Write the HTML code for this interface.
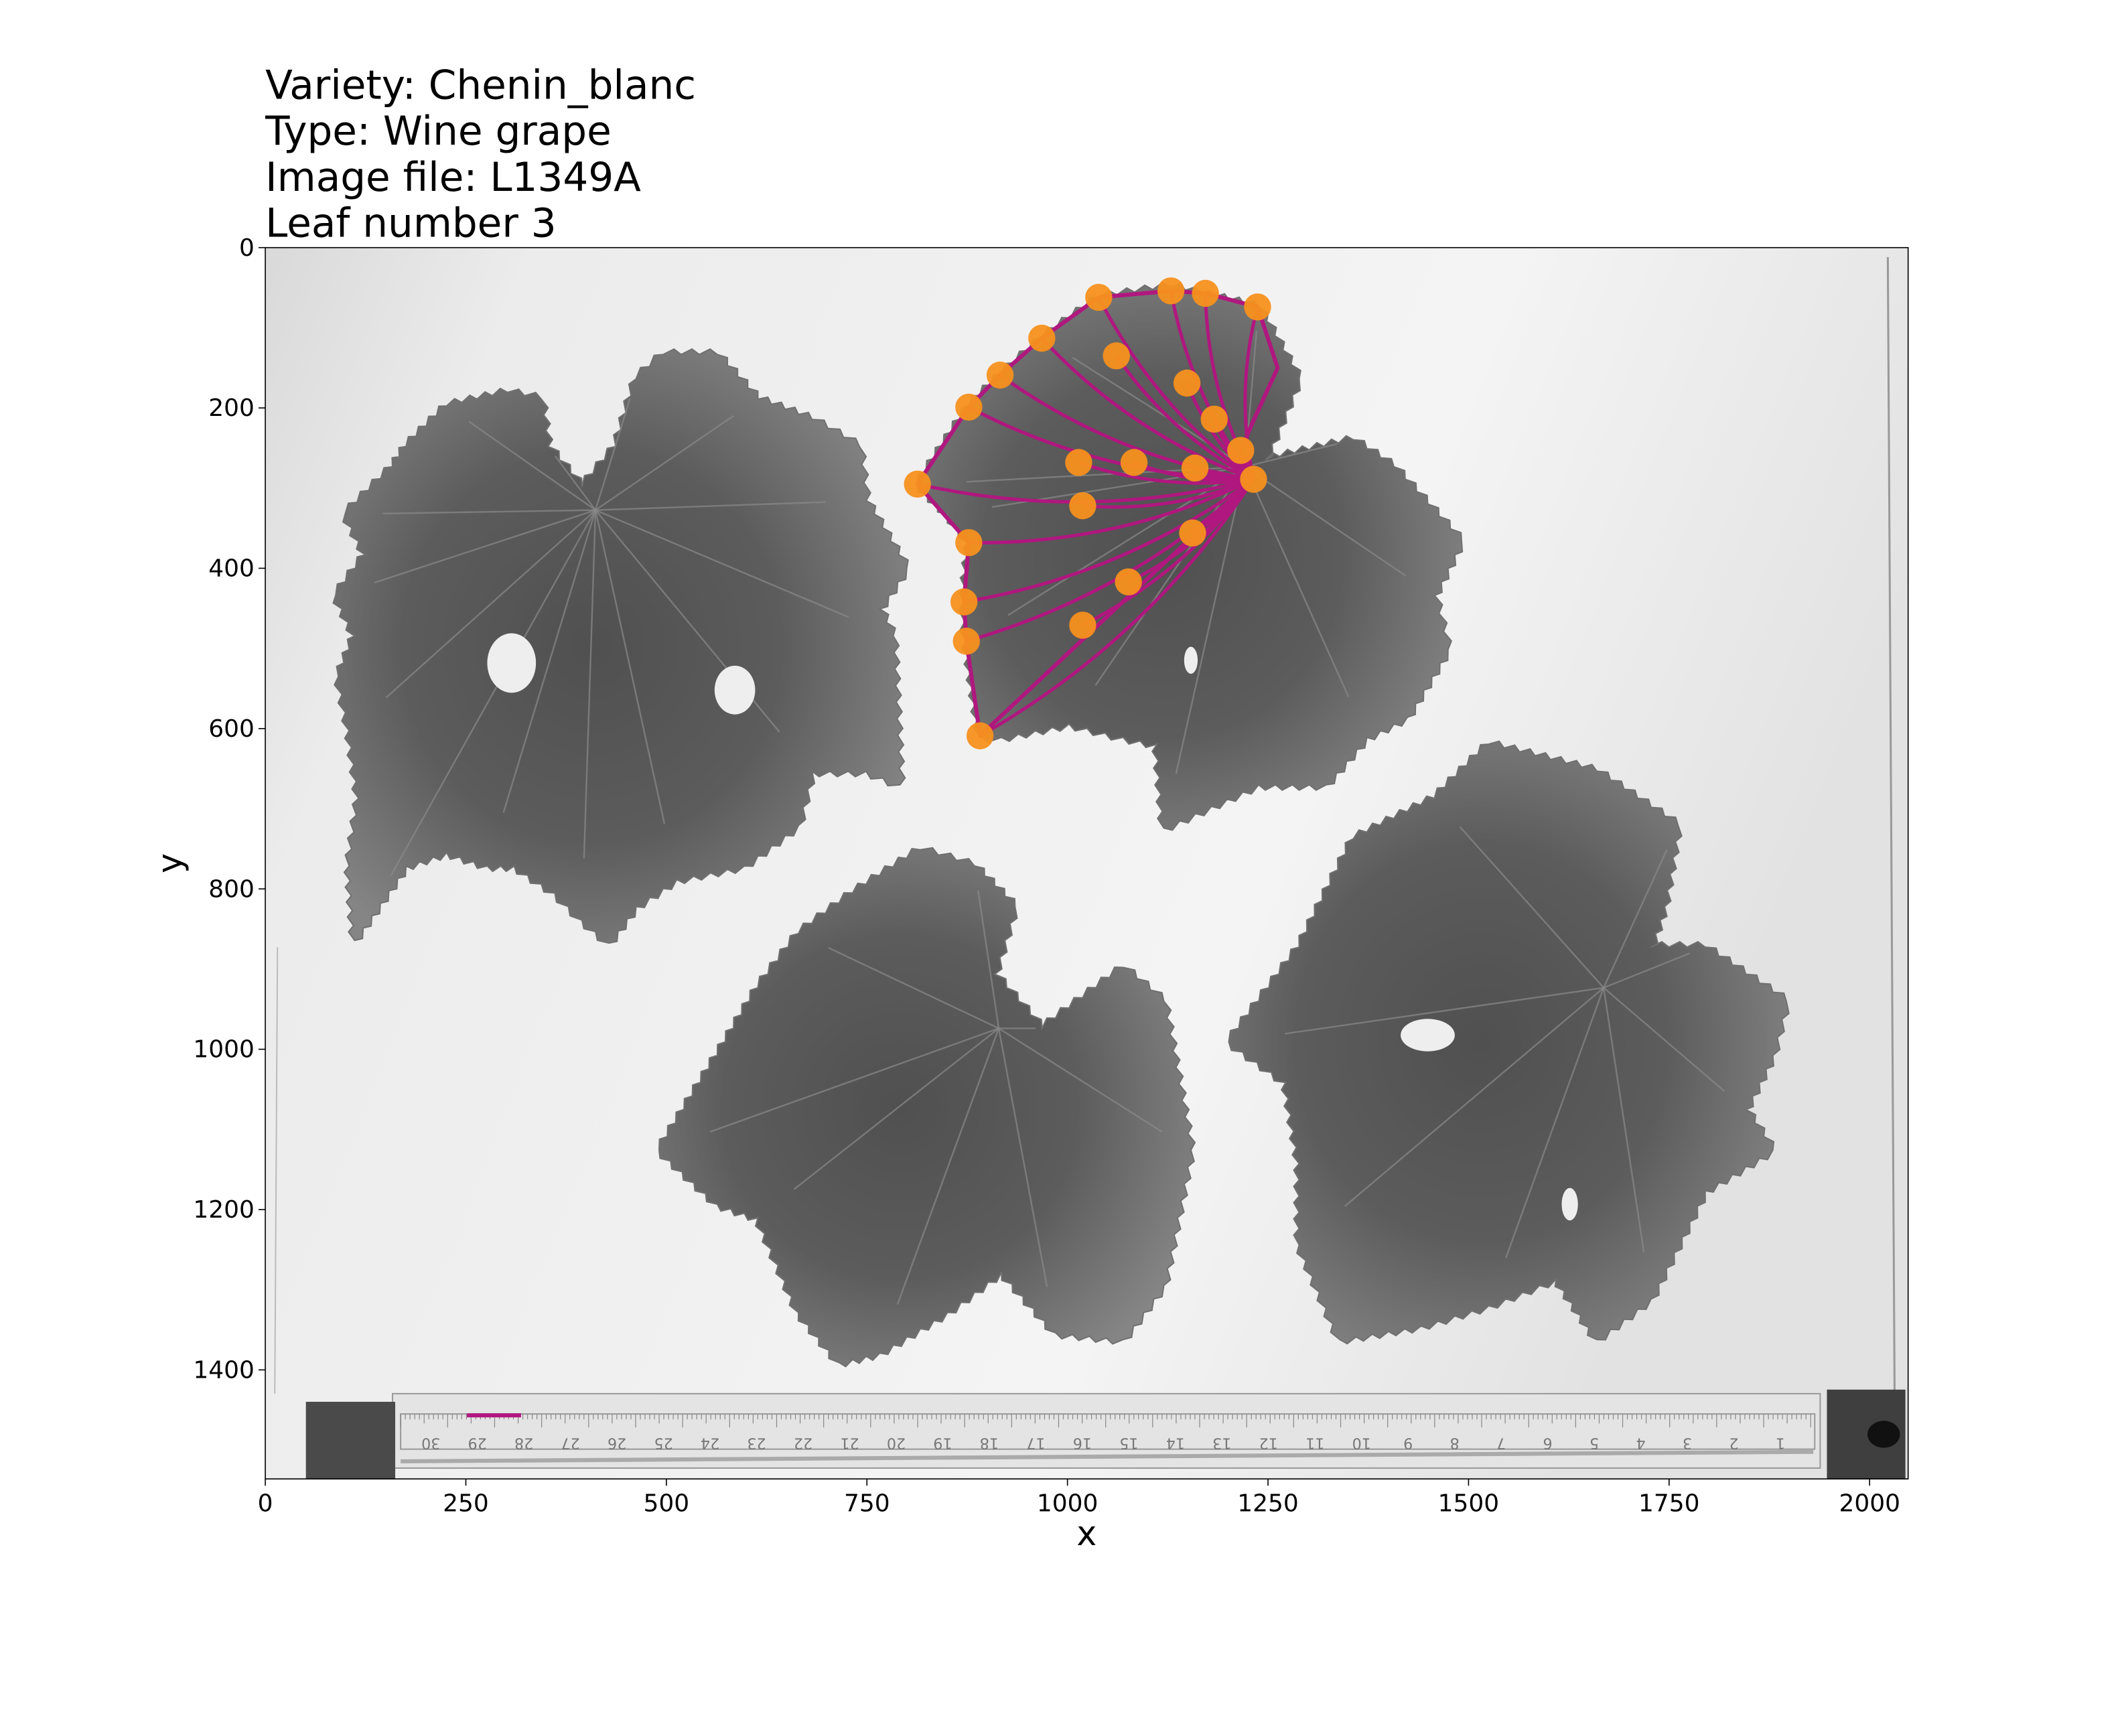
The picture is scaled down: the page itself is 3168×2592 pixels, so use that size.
<!DOCTYPE html>
<html><head><meta charset="utf-8"><style>
html,body{margin:0;padding:0;background:#fff}
svg{display:block}
text{font-family:"DejaVu Sans","Liberation Sans",sans-serif}
</style></head><body>
<svg id="fig" width="3168" height="2592" viewBox="0 0 1568 1283" xmlns="http://www.w3.org/2000/svg">
<defs>
<linearGradient id="bg" x1="0" y1="0" x2="1" y2="0.3">
<stop offset="0" stop-color="#d9d9d9"/><stop offset="0.15" stop-color="#ececec"/><stop offset="0.7" stop-color="#f4f4f4"/><stop offset="1" stop-color="#e2e2e2"/>
</linearGradient>
<radialGradient id="leafg" cx="0.45" cy="0.5" r="0.6">
<stop offset="0" stop-color="#505050"/><stop offset="0.55" stop-color="#5c5c5c"/><stop offset="1" stop-color="#858585"/>
</radialGradient>
</defs>
<g font-size="29.5" fill="#000">
<text x="196" y="73">Variety: Chenin_blanc</text>
<text x="196" y="107">Type: Wine grape</text>
<text x="196" y="141">Image file: L1349A</text>
<text x="196" y="175">Leaf number 3</text>
</g>
<g id="plot">
<rect x="196" y="183" width="1214" height="910" fill="url(#bg)"/>
<line x1="1395" y1="190" x2="1400" y2="1030" stroke="#999" stroke-width="1.5"/>
<line x1="205" y1="700" x2="203" y2="1030" stroke="#bbb" stroke-width="1"/>
<g id="leaves"></g>
<g id="ruler">
<rect x="290" y="1030" width="1055" height="55" fill="#e4e4e4" stroke="#999" stroke-width="1"/>
<rect x="296" y="1045" width="1045" height="26" fill="none" stroke="#999" stroke-width="1"/>
<line x1="296" y1="1080" x2="1340" y2="1073" stroke="#aaa" stroke-width="3"/>
<rect x="226" y="1036" width="66" height="57" fill="#4a4a4a"/>
<rect x="1350" y="1027" width="58" height="66" fill="#3f3f3f"/>
<ellipse cx="1392" cy="1060" rx="12" ry="10" fill="#111"/>
</g>
<line x1="345" y1="1046" x2="385" y2="1046" stroke="#b0177f" stroke-width="3"/>
<g id="outline"></g>
<g id="points"></g>
<rect x="196" y="183" width="1214" height="910" fill="none" stroke="#000" stroke-width="0.8"/>
<g id="xaxis" font-size="17.8"></g>
<g id="yaxis" font-size="17.8"></g>
<text x="803" y="1142" font-size="25" text-anchor="middle">x</text>
<text x="0" y="0" font-size="25" text-anchor="middle" transform="translate(134,638) rotate(-90)">y</text>
</g>
</svg>
<script>
// data arrays
const xTicks = [0,250,500,750,1000,1250,1500,1750,2000];
const yTicks = [0,200,400,600,800,1000,1200,1400];
const pointX = [1039,1129,1172,1237,968,1061,916,1149,877,1183,1216,1014,1083,1159,1232,813,1019,1156,877,1076,871,1019,874,891];
const pointY = [62,54,57,74,113,135,159,169,199,214,253,268,268,275,289,295,322,356,368,417,442,471,491,609];
const outlineX = [1039,1129,1172,1237,1262,1230,1216,1232,891,874,871,877,813,877,916,968,1039];
const outlineY = [62,54,57,74,150,220,253,289,609,491,442,368,295,199,159,113,62];
const petioleX = 1232, petioleY = 289;
const imgW = 2048, imgH = 1536;

const NS='http://www.w3.org/2000/svg';
const L=196,T=183,W=1214,H=910;
const sx=v=>L+v*W/imgW, sy=v=>T+v*H/imgH;
function mk(tag,attrs,parent){const e=document.createElementNS(NS,tag);for(const k in attrs)e.setAttribute(k,attrs[k]);parent.appendChild(e);return e;}

const xa=document.getElementById('xaxis');
xTicks.forEach(t=>{
  const l=mk('line',{x1:sx(t),x2:sx(t),y1:T+H,y2:T+H+5,stroke:'#000','stroke-width':0.8},xa);
  
  
  const tx=mk('text',{x:sx(t),y:T+H+24,'text-anchor':'middle'},xa);tx.textContent=t;
  
  
});
const ya=document.getElementById('yaxis');
yTicks.forEach(t=>{
  const l=mk('line',{x1:L-5,x2:L,y1:sy(t),y2:sy(t),stroke:'#000','stroke-width':0.8},ya);
  
  
  const tx=mk('text',{x:L-8,y:sy(t)+6,'text-anchor':'end'},ya);tx.textContent=t;
  
  
});

const leafShapes=[
[[255,380],[290,345],[300,330],[330,300],[375,290],[400,295],[405,330],[430,360],[455,330],[470,280],[490,262],[530,262],[560,295],[600,310],[635,330],[640,370],[670,420],[650,450],[660,470],[665,580],[640,570],[600,570],[590,610],[550,640],[500,650],[470,670],[450,697],[430,680],[410,660],[380,640],[360,640],[330,630],[300,640],[262,695],[258,640],[265,590],[258,540],[250,500],[262,470],[248,440],[270,410]],
[[678,358],[716,300],[740,277],[770,250],[812,220],[865,212],[930,227],[960,280],[935,340],[1000,325],[1030,345],[1080,400],[1060,440],[1070,480],[1040,530],[1010,545],[980,580],[930,580],[860,612],[855,550],[830,545],[790,535],[740,545],[724,544],[714,474],[712,445],[716,401],[700,380]],
[[487,850],[530,780],[560,730],[590,690],[630,660],[680,628],[720,640],[750,670],[735,720],[770,760],[830,715],[860,740],[880,850],[860,950],[830,990],[780,985],[740,940],[700,970],[650,1000],[620,1007],[590,970],[560,900],[530,890]],
[[908,770],[960,700],[1000,620],[1060,590],[1100,550],[1180,570],[1240,610],[1230,670],[1220,700],[1260,700],[1320,740],[1310,780],[1290,820],[1310,850],[1260,880],[1220,960],[1180,990],[1150,945],[1100,965],[1050,980],[990,990],[960,920],[960,860],[950,800]]
];
const centers=[[440,377],[920,345],[738,760],[1185,730]];
const lg=document.getElementById('leaves');
leafShapes.forEach((pts,i)=>{
  let d='';
  for(let k=0;k<pts.length;k++){
    const a=pts[k],b=pts[(k+1)%pts.length];
    const dx=b[0]-a[0],dy=b[1]-a[1],len=Math.hypot(dx,dy),n=Math.max(1,Math.round(len/12));
    const nx=dy/len,ny=-dx/len;
    for(let j=0;j<n;j++){
      const x=a[0]+dx*j/n,y=a[1]+dy*j/n;
      d+=(d?'L':'M')+x.toFixed(1)+','+y.toFixed(1);
      const mx=a[0]+dx*(j+0.6)/n+nx*4,my=a[1]+dy*(j+0.6)/n+ny*4;
      d+='L'+mx.toFixed(1)+','+my.toFixed(1);
    }
  }
  const p=mk('path',{d:d+'Z',fill:'url(#leafg)',stroke:'#707070','stroke-width':1},lg);
  
  
  const c=centers[i];
  pts.forEach((q,k)=>{ if(k%3===0){
    const v=mk('line',{x1:c[0],y1:c[1],x2:c[0]+(q[0]-c[0])*0.85,y2:c[1]+(q[1]-c[1])*0.85,stroke:'#8a8a8a','stroke-width':1.2,opacity:0.7},lg);
    
    
  }});
});
[[378,490,18,22],[543,510,15,18],[1055,765,20,12],[1160,890,6,12],[880,488,5,10]].forEach(h=>{
  const e=mk('ellipse',{cx:h[0],cy:h[1],rx:h[2],ry:h[3],fill:'#eeeeee'},lg);
  
  
});

const rg=document.getElementById('ruler');
for(let k=0;k<=300;k++){
  const x=1338-k*(1338-296)/300;
  mk('line',{x1:x,x2:x,y1:1045,y2:1045+(k%10===0?10:(k%5===0?7:4)),stroke:'#888','stroke-width':0.6},rg);
}
for(let n=1;n<=30;n++){
  const x=1338-n*(1338-296)/30.3;
  const t=mk('text',{x:0,y:0,'font-size':11,fill:'#777','text-anchor':'middle',transform:`translate(${x+12},1063) rotate(180)`},rg);
  t.textContent=n;
  
  
}

const og=document.getElementById('outline');
let od='';
outlineX.forEach((x,i)=>{od+=(i?'L':'M')+sx(x)+','+sy(outlineY[i]);});
const op=mk('path',{d:od,fill:'none',stroke:'#b0177f','stroke-width':3,'stroke-linejoin':'round'},og);


pointX.forEach((x,i)=>{
  const px=sx(petioleX),py=sy(petioleY),tx=sx(x),ty=sy(pointY[i]);
  const cx=(px+tx)/2+(ty-py)*0.12,cy=(py+ty)/2-(tx-px)*0.12;
  const v=mk('path',{d:`M${px},${py}Q${cx},${cy} ${tx},${ty}`,fill:'none',stroke:'#b0177f','stroke-width':2.5},og);
  
  
});
const pg=document.getElementById('points');
pointX.forEach((x,i)=>{
  const c=mk('circle',{cx:sx(x),cy:sy(pointY[i]),r:10,fill:'#f7901e',opacity:0.95},pg);
  
  
});
</script>
</body></html>
